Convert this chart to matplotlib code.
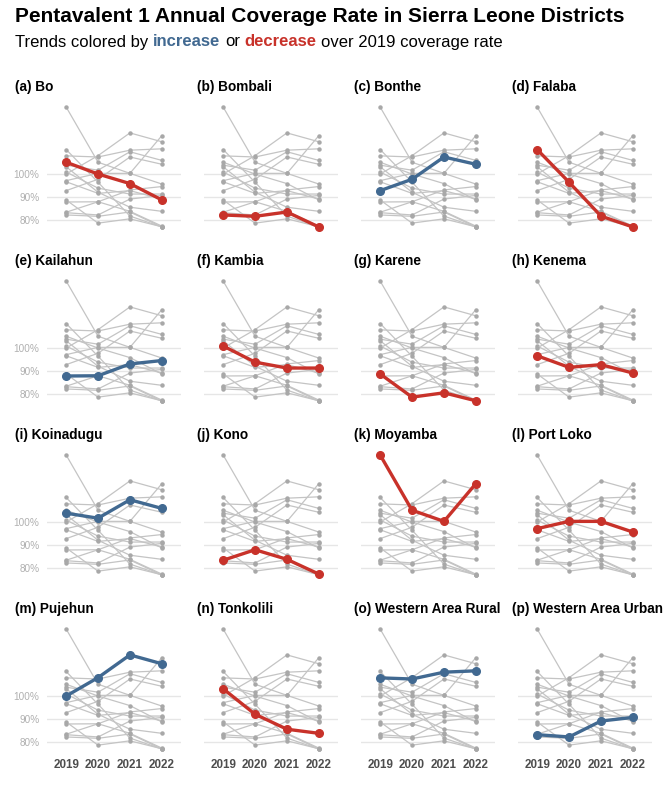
import matplotlib
matplotlib.use('Agg')
import matplotlib.pyplot as plt

plt.rcParams['font.family'] = ['Liberation Sans', 'DejaVu Sans']

# Pentavalent 1 coverage (%) by year
years = [2019, 2020, 2021, 2022]
districts = ['Bo', 'Bombali', 'Bonthe', 'Falaba', 'Kailahun', 'Kambia', 'Karene', 'Kenema',
             'Koinadugu', 'Kono', 'Moyamba', 'Port Loko', 'Pujehun', 'Tonkolili',
             'Western Area Rural', 'Western Area Urban']
bo = [105.3, 100.1, 95.9, 88.7]
bombali = [82.1, 81.5, 83.4, 76.8]
bonthe = [92.8, 97.8, 107.6, 104.4]
falaba = [110.9, 96.5, 81.6, 76.8]
kailahun = [87.8, 87.9, 93.1, 94.6]
kambia = [101.0, 93.9, 91.3, 91.3]
karene = [88.7, 78.5, 80.4, 76.9]
kenema = [96.7, 91.6, 92.8, 89.1]
koinadugu = [104.0, 101.8, 109.9, 106.1]
kono = [83.3, 87.9, 83.7, 77.2]
moyamba = [129.6, 105.3, 100.4, 117.0]
port_loko = [97.2, 100.4, 100.4, 95.7]
pujehun = [100.1, 108.2, 118.2, 114.3]
tonkolili = [103.3, 92.1, 85.5, 83.7]
western_rural = [108.1, 107.6, 110.6, 111.2]
western_urban = [83.1, 82.1, 89.1, 90.7]

rates = [bo, bombali, bonthe, falaba, kailahun, kambia, karene, kenema,
         koinadugu, kono, moyamba, port_loko, pujehun, tonkolili,
         western_rural, western_urban]
y_breaks = [80, 90, 100]
y_labels = ['80%', '90%', '100%']

BLUE = '#416991'
RED = '#c8322a'
GRAY = '#c4c4c4'

W, H = 669, 787
fig = plt.figure(figsize=(W / 100, H / 100), dpi=100)

lo = min(min(r) for r in rates)
hi = max(max(r) for r in rates)
pad = (hi - lo) * 0.05

title_x = [15, 197, 354, 512]
letters = 'abcdefghijklmnop'

for i, (name, vals) in enumerate(zip(districts, rates)):
    row, col = divmod(i, 4)
    left = 47 + 157 * col
    top = 101 + 174 * row
    ax = fig.add_axes([left / W, 1 - (top + 132) / H, 134 / W, 132 / H])
    for other in rates:
        ax.plot(years, other, color=GRAY, lw=0.9, marker='o', ms=2.2,
                mfc='#a8a8a8', mec='#a8a8a8', zorder=2)
    color = BLUE if vals[-1] > vals[0] else RED
    ax.plot(years, vals, color=color, lw=2.4, marker='o', ms=5.5, zorder=3)

    ax.set_xlim(2019 - 0.6, 2022 + 0.6)
    ax.set_ylim(lo - pad, hi + pad)
    ax.set_yticks(y_breaks)
    ax.set_xticks(years)
    for yb in y_breaks:
        ax.axhline(yb, color='#e6e6e6', lw=1.0, zorder=1)
    for s in ax.spines.values():
        s.set_visible(False)
    ax.tick_params(length=0)
    if col == 0:
        ax.set_yticklabels(y_labels, color='#b0b0b0', fontsize=7.2)
        ax.tick_params(axis='y', pad=5.5)
    else:
        ax.set_yticklabels([])
    if row == 3:
        ax.set_xticklabels([str(y) for y in years], color='#4d4d4d', fontsize=8.4,
                           fontweight='bold')
        ax.tick_params(axis='x', pad=3)
    else:
        ax.set_xticklabels([])

    fig.text(title_x[col] / W, 1 - (87 + 174 * row) / H, f'({letters[i]}) {name}',
             fontsize=9.8, fontweight='bold', va='center', ha='left')

fig.text(15 / W, 1 - 16 / H, 'Pentavalent 1 Annual Coverage Rate in Sierra Leone Districts',
         fontsize=15, fontweight='bold', va='center', ha='left')

# subtitle with coloured words
renderer = fig.canvas.get_renderer()
parts = [('Trends colored by', 'black', 'normal'), ('increase', BLUE, 'bold'),
         ('or', 'black', 'normal'), ('decrease', RED, 'bold'),
         ('over 2019 coverage rate', 'black', 'normal')]
sub_size = 12
probe1 = fig.text(0, 0, 'a a', fontsize=sub_size)
probe2 = fig.text(0, 0, 'aa', fontsize=sub_size)
space = probe1.get_window_extent(renderer).width - probe2.get_window_extent(renderer).width
probe1.remove()
probe2.remove()
x = 15
for txt, c, w in parts:
    t = fig.text(x / W, 1 - 42 / H, txt, color=c, fontweight=w, fontsize=sub_size,
                 va='center', ha='left')
    x = t.get_window_extent(renderer).x1 + space

fig.savefig('out.png', dpi=100, facecolor='white')
